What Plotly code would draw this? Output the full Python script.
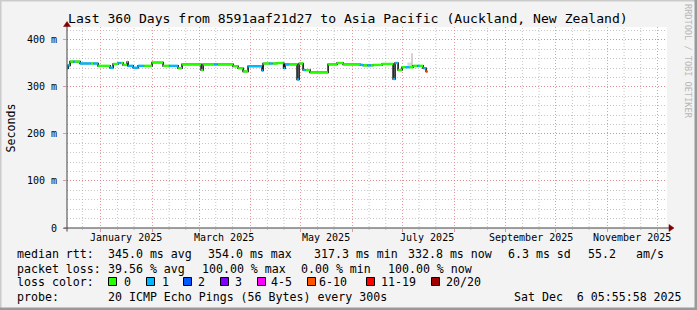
import plotly.graph_objects as go

# ---------------- data ----------------
title_text = "Last 360 Days from 8591aaf21d27 to Asia Pacific (Auckland, New Zealand)"
x_start = "2024-12-11 18:00"
x_end = "2025-12-06 18:00"
y_max = 427.6

seg_dates = [
    "2024-12-11 06:00", "2024-12-12 12:00", "2024-12-13 14:00", "2024-12-15 12:00",
    "2024-12-16 12:00", "2024-12-19 14:00", "2024-12-26 00:00", "2024-12-27 12:00",
    "2024-12-30 10:00", "2025-01-06 14:00", "2025-01-08 10:00", "2025-01-11 10:00",
    "2025-01-13 00:00", "2025-01-14 10:00", "2025-01-16 19:00", "2025-01-17 10:00",
    "2025-01-20 10:00", "2025-01-23 10:00", "2025-01-27 00:00", "2025-01-31 19:00",
    "2025-02-07 10:00", "2025-02-11 00:00", "2025-02-16 10:00", "2025-02-18 19:00",
    "2025-03-02 05:00", "2025-03-03 10:00", "2025-03-10 00:00", "2025-03-12 00:00",
    "2025-03-21 10:00", "2025-03-24 10:00", "2025-03-27 10:00", "2025-03-30 10:00",
    "2025-04-07 19:00", "2025-04-08 10:00", "2025-04-12 00:00", "2025-04-14 00:00",
    "2025-04-16 19:00", "2025-04-20 17:00", "2025-04-21 14:00", "2025-04-24 00:00",
    "2025-04-28 19:00", "2025-04-30 00:00", "2025-05-02 10:00", "2025-05-04 00:00",
    "2025-05-06 14:00", "2025-05-17 10:00", "2025-05-22 19:00", "2025-05-26 10:00",
    "2025-06-05 14:00", "2025-06-07 10:00", "2025-06-10 00:00", "2025-06-12 00:00",
    "2025-06-13 10:00", "2025-06-18 19:00", "2025-06-25 10:00", "2025-06-26 14:00",
    "2025-06-28 10:00", "2025-06-30 19:00", "2025-07-03 00:00", "2025-07-05 00:00",
    "2025-07-07 10:00", "2025-07-10 00:00", "2025-07-11 00:00", "2025-07-13 10:00",
    "2025-07-15 05:00",
]
seg_end = "2025-07-16 02:00"
median_ms = [
    340, 346, 354, 354, 354, 350, 350, 350,
    345, 341, 349, 351, 351, 347, 353, 345,
    341, 345, 345, 352, 345, 345, 340, 348,
    336, 348, 348, 348, 344, 340, 333, 344,
    335, 350, 350, 350, 351, 340, 348, 348,
    316, 350, 336, 336, 331, 348, 351, 348,
    347, 346, 346, 346, 347, 349, 317, 351,
    336, 342, 342, 342, 345, 345, 345, 340,
    333,
]
lost_pings = [
    1, 1, 0, 1, 0, 1, 0, 1,
    0, 1, 0, 1, 0, 0, 0, 1,
    1, 1, 0, 0, 0, 1, 0, 0,
    0, 0, 1, 0, 0, 0, 0, 1,
    1, 0, 1, 0, 0, 1, 1, 0,
    1, 0, 1, 0, 0, 0, 0, 0,
    1, 0, 1, 0, 0, 0, 1, 1,
    0, 0, 1, 0, 0, 1, 0, 1,
    8,
]

smoke_dates = ["2025-07-04 00:00", "2025-07-06 18:00"]
smoke_lo = [342, 342]
smoke_hi = [352, 352]
spike_date = "2025-07-06 18:00"
spike_lo, spike_hi = 345, 372

loss_labels = ["0", "1", "2", "3", "4-5", "6-10", "11-19", "20/20"]
loss_upper = [0, 1, 2, 3, 5, 10, 19, 20]
loss_colors = ["#26ff00", "#00b8ff", "#0059ff", "#7e00ff", "#ff00ff", "#ff5500", "#ff0000", "#a00000"]

month_starts = ["2025-%02d-01" % m for m in range(1, 13)]
minor_days = ["2024-12-21"] + ["2025-%02d-%s" % (m, d) for m in range(1, 13) for d in ("11", "21")]
label_dates = ["2025-01-16", "2025-03-16", "2025-05-16", "2025-07-16", "2025-09-16", "2025-11-16"]
label_texts = ["January 2025", "March 2025", "May 2025", "July 2025", "September 2025", "November 2025"]
y_ticks = [0, 100, 200, 300, 400]
y_ticktext = ["0", "100 m", "200 m", "300 m", "400 m"]

legend_rows = [
    [(16, "median rtt:"), (107, "345.0 ms avg"), (207, "354.0 ms max"), (313, "317.3 ms min"),
     (407, "332.8 ms now"), (507, "6.3 ms sd"), (586.5, "55.2"), (635, "am/s")],
    [(16, "packet loss:"), (107, "39.56 % avg"), (200.5, "100.00 % max"), (300, "0.00 % min"),
     (386.5, "100.00 % now")],
    [(16, "loss color:")],
    [(16, "probe:"), (107, "20 ICMP Echo Pings (56 Bytes) every 300s"), (513, "Sat Dec  6 05:55:58 2025")],
]
row_y = [254, 268.5, 282, 296.5]
box_x = [108, 146, 183, 220, 257, 307, 366, 431]
box_label_x = [123, 160.5, 197, 234, 270, 318, 380, 445]

# ---------------- geometry ----------------
W, H = 697, 310
PL, PR, PT, PB = 67, 667, 27, 228
FONT = "DejaVu Sans Mono"


def px(x):
    return (x - PL) / (PR - PL)


def py(y):
    return (PB - y) / (PB - PT)


def color_for(lost):
    for up, c in zip(loss_upper, loss_colors):
        if lost <= up:
            return c
    return loss_colors[-1]


fig = go.Figure()

# smoke
fig.add_trace(go.Scatter(x=smoke_dates, y=smoke_lo, mode="lines", line=dict(width=0),
                         showlegend=False, hoverinfo="skip"))
fig.add_trace(go.Scatter(x=smoke_dates, y=smoke_hi, mode="lines", line=dict(width=0),
                         fill="tonexty", fillcolor="#d8d8d8", showlegend=False, hoverinfo="skip"))
fig.add_trace(go.Scatter(x=[spike_date, spike_date], y=[spike_lo, spike_hi], mode="lines",
                         line=dict(color="#c4c4c4", width=1.5), showlegend=False, hoverinfo="skip"))

# black median step line
all_x = seg_dates + [seg_end]
all_y = median_ms + [median_ms[-1]]
fig.add_trace(go.Scatter(x=all_x, y=all_y, mode="lines", line=dict(color="#151515", width=1.6, shape="hv"),
                         showlegend=False, hoverinfo="skip"))

# colored segments by loss
for c in loss_colors:
    xs, ys = [], []
    for i in range(len(seg_dates)):
        if color_for(lost_pings[i]) != c:
            continue
        xs += [all_x[i], all_x[i + 1], None]
        ys += [median_ms[i], median_ms[i], None]
    if xs:
        fig.add_trace(go.Scatter(x=xs, y=ys, mode="lines", line=dict(color=c, width=2.4),
                                 showlegend=False, hoverinfo="skip"))

shapes = []
annotations = []

GRID_MAJ = "rgba(225,120,120,0.75)"
GRID_MIN = "rgba(160,160,160,0.6)"

# minor vertical grid (10-day marks)
for d in minor_days:
    shapes.append(dict(type="line", xref="x", yref="paper", x0=d, x1=d, y0=py(230), y1=1,
                       line=dict(color=GRID_MIN, width=1, dash="1px,2px"), layer="below"))

# background frame
shapes.append(dict(type="rect", xref="paper", yref="paper", x0=px(0), x1=px(W), y0=py(0), y1=py(1.5),
                   fillcolor="#cbcbcb", line=dict(width=0), layer="below"))
shapes.append(dict(type="rect", xref="paper", yref="paper", x0=px(0), x1=px(1.5), y0=py(0), y1=py(H),
                   fillcolor="#cbcbcb", line=dict(width=0), layer="below"))
shapes.append(dict(type="rect", xref="paper", yref="paper", x0=px(W - 2.5), x1=px(W), y0=py(0), y1=py(H),
                   fillcolor="#999999", line=dict(width=0), layer="below"))
shapes.append(dict(type="rect", xref="paper", yref="paper", x0=px(0), x1=px(W), y0=py(H - 2.5), y1=py(H),
                   fillcolor="#999999", line=dict(width=0), layer="below"))

# axis lines with arrows
AX = "#404040"
ARROW = "#7f0000"
shapes.append(dict(type="line", xref="paper", yref="paper", x0=px(63.5), x1=px(669), y0=py(228), y1=py(228),
                   line=dict(color=AX, width=1), layer="above"))
shapes.append(dict(type="line", xref="paper", yref="paper", x0=px(67), x1=px(67), y0=py(231.5), y1=py(26),
                   line=dict(color=AX, width=1), layer="above"))
shapes.append(dict(type="path", xref="paper", yref="paper",
                   path="M %f %f L %f %f L %f %f Z" % (px(669), py(224.5), px(674), py(228), px(669), py(231.5)),
                   fillcolor=ARROW, line=dict(color=ARROW, width=0.5), layer="above"))
shapes.append(dict(type="path", xref="paper", yref="paper",
                   path="M %f %f L %f %f L %f %f Z" % (px(63.5), py(26.5), px(67), py(21.5), px(70.5), py(26.5)),
                   fillcolor=ARROW, line=dict(color=ARROW, width=0.5), layer="above"))

# title
annotations.append(dict(text=title_text, x=px(347.5), y=py(19), xref="paper", yref="paper",
                        xanchor="center", yanchor="middle", showarrow=False,
                        font=dict(family=FONT, size=13.1, color="#000000")))
# vertical watermark
annotations.append(dict(text="RRDTOOL / TOBI OETIKER", x=px(688), y=py(61), xref="paper", yref="paper",
                        xanchor="center", yanchor="middle", showarrow=False, textangle=90,
                        font=dict(family=FONT, size=8.6, color="#b8b8b8")))
# y title
annotations.append(dict(text="Seconds", x=px(10.5), y=py(128), xref="paper", yref="paper",
                        xanchor="center", yanchor="middle", showarrow=False, textangle=-90,
                        font=dict(family=FONT, size=11.6, color="#000000")))
# x labels (rrdtool places them mid-interval)
for d, t in zip(label_dates, label_texts):
    annotations.append(dict(text=t, x=d, y=py(237.5), xref="x", yref="paper",
                            xanchor="center", yanchor="middle", showarrow=False,
                            font=dict(family=FONT, size=10, color="#000000")))
# legend lines
for row, yy in zip(legend_rows, row_y):
    for xx, t in row:
        annotations.append(dict(text=t.replace(" ", "\u00a0"), x=px(xx - 1), y=py(yy), xref="paper", yref="paper",
                                xanchor="left", yanchor="middle", showarrow=False,
                                font=dict(family=FONT, size=11.6, color="#000000")))
for bx, lx, lab, col in zip(box_x, box_label_x, loss_labels, loss_colors):
    shapes.append(dict(type="rect", xref="paper", yref="paper", x0=px(bx + 0.5), x1=px(bx + 8.5),
                       y0=py(277.5), y1=py(285.5), fillcolor=col, line=dict(color="#000000", width=1),
                       layer="above"))
    annotations.append(dict(text=lab, x=px(lx - 1), y=py(282), xref="paper", yref="paper",
                            xanchor="left", yanchor="middle", showarrow=False,
                            font=dict(family=FONT, size=11.6, color="#000000")))

fig.update_layout(
    width=W, height=H,
    margin=dict(l=PL, r=W - PR, t=PT, b=H - PB, pad=0),
    paper_bgcolor="#f3f3f3",
    plot_bgcolor="#ffffff",
    showlegend=False,
    shapes=shapes,
    annotations=annotations,
    xaxis=dict(
        type="date", range=[x_start, x_end], tickmode="array", tickvals=month_starts,
        showticklabels=False, showgrid=True, gridcolor=GRID_MAJ, griddash="1px,2px", gridwidth=1,
        ticks="outside", ticklen=3, tickcolor=GRID_MAJ, zeroline=False, showline=False,
    ),
    yaxis=dict(
        range=[0, y_max], tickmode="array", tickvals=y_ticks, ticktext=y_ticktext,
        showgrid=True, gridcolor=GRID_MAJ, griddash="1px,2px", gridwidth=1,
        ticks="outside", ticklen=3, tickcolor=GRID_MAJ, ticklabelstandoff=4,
        zeroline=False, showline=False,
        tickfont=dict(family=FONT, size=10, color="#000000"),
        minor=dict(dtick=20, tick0=0, showgrid=True, gridcolor=GRID_MIN, griddash="1px,2px", gridwidth=1),
    ),
)

fig.write_html("out.html")
